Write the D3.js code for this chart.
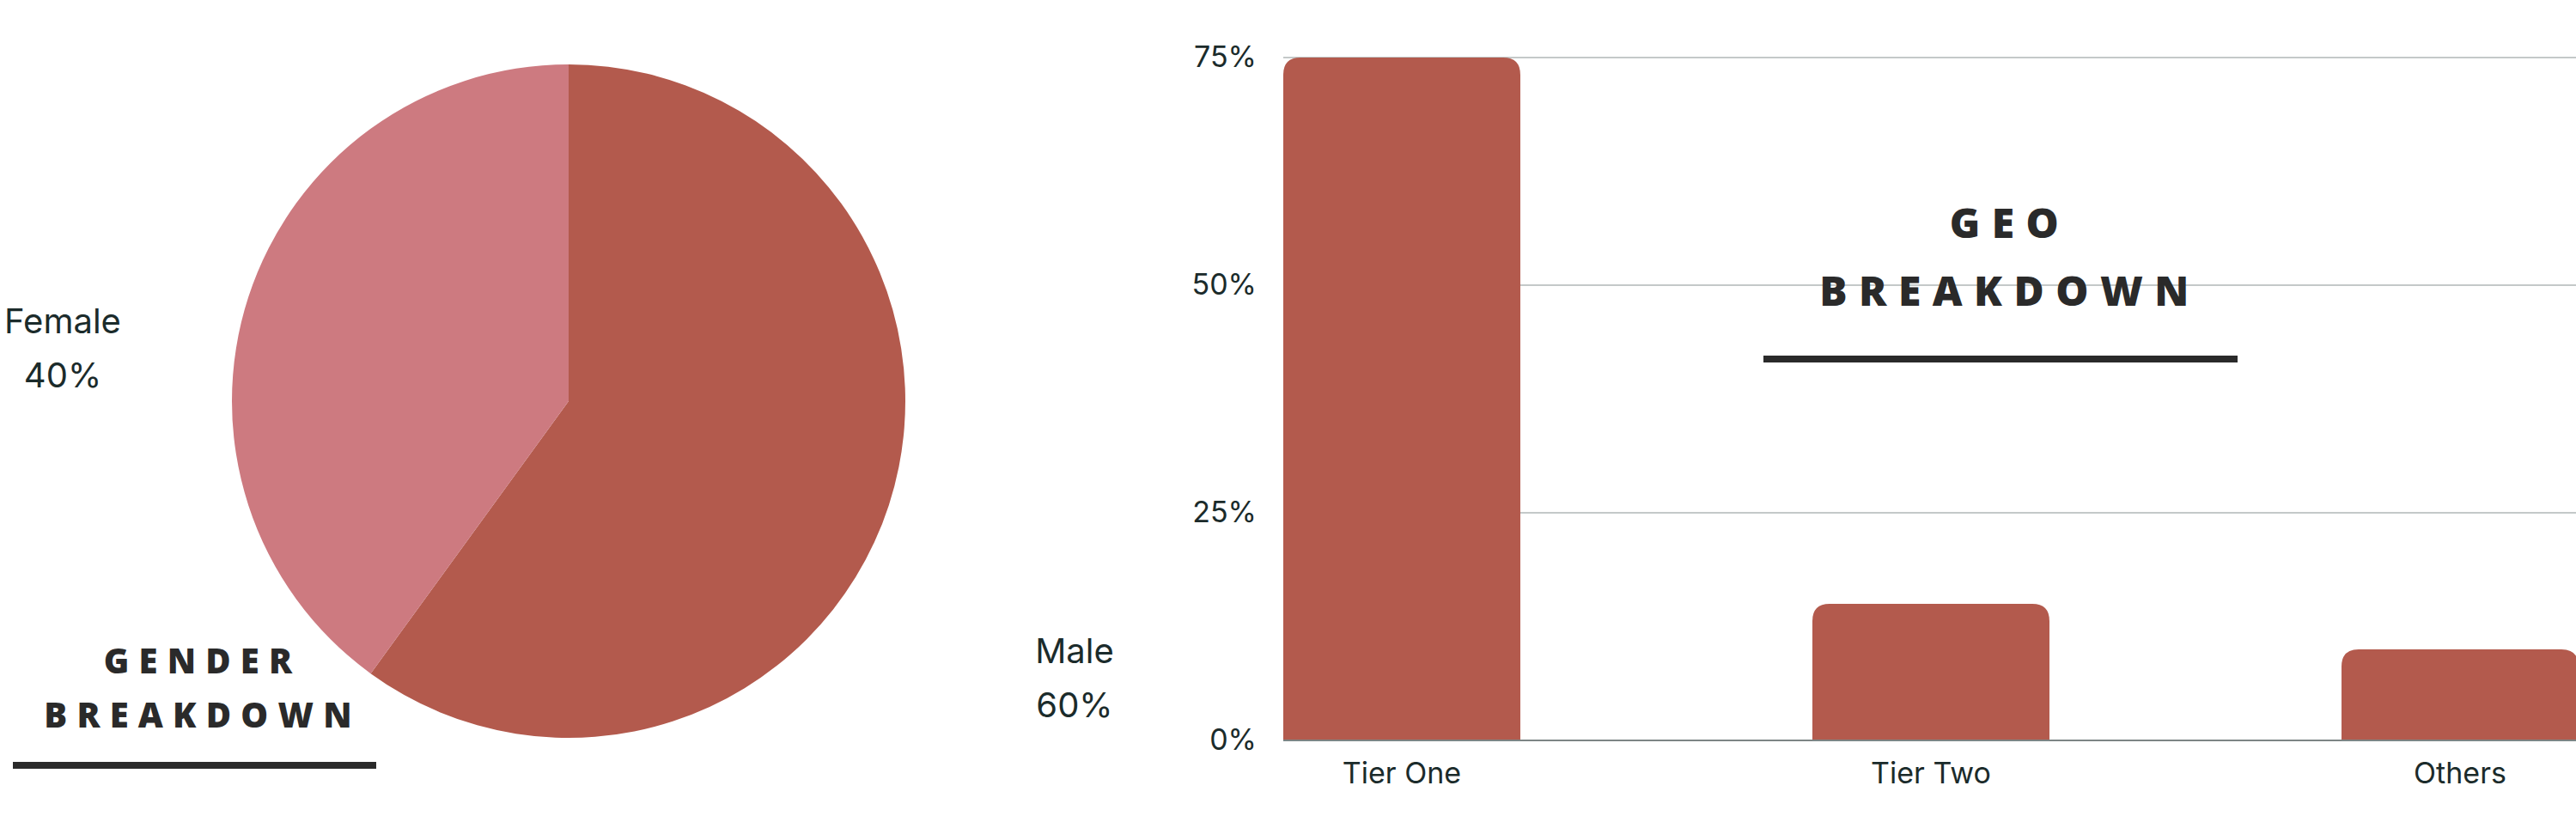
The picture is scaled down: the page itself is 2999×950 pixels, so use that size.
<!DOCTYPE html>
<html><head><meta charset="utf-8">
<script src="https://cdn.jsdelivr.net/npm/d3@7"></script>
<style>body{margin:0;background:#fff}svg{display:block}</style>
</head><body>
<svg id="chart" width="2999" height="950"></svg>
<script>
// gender pie
const genderLabels = ["Male", "Female"];
const genderValues = [60, 40];
const genderColors = ["#b35a4d", "#cd7a80"];

// geo bars
const geoCategories = ["Tier One", "Tier Two", "Others"];
const geoValues = [75, 15, 10];
const yTicks = [0, 25, 50, 75];

const svg = d3.select("#chart");
const textColor = "#1b2b2b";
const font = "Inter, 'Noto Sans', sans-serif";

// ---- pie ----
const cx = 662, cy = 467, r = 392;
const pie = d3.pie().sort(null)(genderValues);
const arc = d3.arc().innerRadius(0).outerRadius(r);
const pg = svg.append("g").attr("transform", `translate(${cx},${cy})`);
pg.selectAll("path").data(pie).enter().append("path")
    .attr("d", arc)
    .attr("fill", (d, i) => genderColors[i]);

const pieLabelPos = [[1251, 761], [73, 377]];
genderLabels.forEach((l, i) => {
    const t = svg.append("text").attr("x", pieLabelPos[i][0]).attr("y", pieLabelPos[i][1])
        .attr("text-anchor", "middle").attr("dominant-baseline", "middle")
        .attr("font-family", font).attr("font-size", 40).attr("fill", textColor);
    t.append("tspan").attr("x", pieLabelPos[i][0]).text(l);
    t.append("tspan").attr("x", pieLabelPos[i][0]).attr("dy", 63).text(genderValues[i] + "%");
});

function title(lines, x, y, size, gap) {
    lines.forEach((l, i) => {
        svg.append("text").attr("x", x).attr("y", y + i * gap)
            .attr("text-anchor", "middle").attr("dominant-baseline", "middle")
            .attr("font-family", "'Open Sans', Inter, sans-serif").attr("font-weight", 800)
            .attr("font-size", size).attr("letter-spacing", size * 0.28)
            .attr("fill", "#2a2a2a").text(l);
    });
}
title(["GENDER", "BREAKDOWN"], 236, 773, 40, 63);
svg.append("rect").attr("x", 15).attr("y", 887).attr("width", 423).attr("height", 8).attr("fill", "#2a2a2a");

// ---- bars ----
const x = d3.scaleBand().domain(geoCategories).range([1494, 3002]).paddingInner(0.552).paddingOuter(0);
const y = d3.scaleLinear().domain([0, 75]).range([862, 67]);

svg.append("g").selectAll("line").data(yTicks.slice(1)).enter().append("line")
    .attr("x1", 1494).attr("x2", 2999)
    .attr("y1", d => y(d)).attr("y2", d => y(d))
    .attr("stroke", "#c4c9c9").attr("stroke-width", 2);

const rad = 20;
svg.append("g").selectAll("path").data(geoValues).enter().append("path")
    .attr("fill", "#b35a4d")
    .attr("d", (d, i) => {
        const x0 = x(geoCategories[i]), w = x.bandwidth(), y0 = y(d), yb = y(0);
        return `M${x0},${yb}V${y0 + rad}Q${x0},${y0} ${x0 + rad},${y0}H${x0 + w - rad}Q${x0 + w},${y0} ${x0 + w},${y0 + rad}V${yb}Z`;
    });

svg.append("line").attr("x1", 1494).attr("x2", 2999).attr("y1", y(0)).attr("y2", y(0))
    .attr("stroke", "#7d8585").attr("stroke-width", 2);

const yAxis = svg.append("g").attr("transform", "translate(1463,0)")
    .call(d3.axisLeft(y).tickValues(yTicks).tickSize(0).tickFormat(d => d + "%"));
yAxis.select(".domain").remove();
yAxis.selectAll("text").attr("font-family", font).attr("font-size", 34).attr("fill", textColor).attr("x", 0);

const xAxis = svg.append("g").attr("transform", `translate(0,${y(0)})`)
    .call(d3.axisBottom(x).tickSize(0));
xAxis.select(".domain").remove();
xAxis.selectAll("text").attr("font-family", font).attr("font-size", 34).attr("fill", textColor).attr("dy", 0).attr("y", 41)
    .attr("dominant-baseline", "middle");

title(["GEO", "BREAKDOWN"], 2340, 264, 48, 79);
svg.append("rect").attr("x", 2053).attr("y", 414).attr("width", 552).attr("height", 8).attr("fill", "#2a2a2a");
</script>
</body></html>
